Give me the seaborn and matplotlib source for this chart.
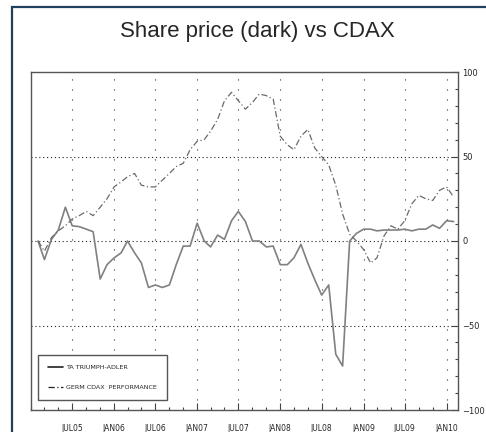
import numpy as np
import pandas as pd
import seaborn as sns
import matplotlib
matplotlib.use("Agg")
import matplotlib.pyplot as plt
import matplotlib.dates as mdates
from matplotlib.patches import Rectangle
from matplotlib.ticker import MultipleLocator

# monthly readings, Feb 2005 .. Feb 2010 (% change)
months = pd.date_range("2005-02-01", "2010-02-01", freq="MS")
ta_triumph = [0, -11, 1, 6.5, 20, 9, 8.5, 7, 5.5, -22.5, -14, -10, -7, 0, -7, -13,
              -27.5, -26, -27.5, -26, -14, -3, -3, 10.5, 0, -3.5, 3.5, 1, 12, 17.5,
              11.5, 0, 0, -3.5, -3, -14, -14, -10, -2, -13, -23, -32, -26, -67, -74,
              0, 4.5, 7, 7, 6, 6.5, 6.5, 6.5, 7, 6, 7, 7, 9.5, 7.5, 12, 11.5]
cdax = [0, -6, 2, 6, 9, 13, 15, 17.5, 15, 20, 25, 32, 35, 38, 40, 33,
        32, 32, 36, 40, 44, 46, 54, 59, 60, 65, 72, 83, 88, 83,
        78, 82, 87, 86, 84, 62, 57, 54, 62, 66, 55, 50, 45, 33, 16,
        4, 0, -5, -13, -10, 3, 9, 7, 12, 22, 27, 25, 24, 30, 32, 26]
series_names = ["TA TRIUMPH-ADLER", "GERM CDAX  PERFORMANCE"]
tick_dates = pd.date_range("2005-07-01", "2010-01-01", freq="6MS")
tick_labels = ["JUL05", "JAN06", "JUL06", "JAN07", "JUL07",
               "JAN08", "JUL08", "JAN09", "JUL09", "JAN10"]

df = pd.DataFrame({"date": months, "ta": ta_triumph, "cdax": cdax})

sns.set_style("white")
small_font = ["Liberation Sans Narrow", "DejaVu Sans"]

fig = plt.figure(figsize=(4.86, 4.32), dpi=100)
ax = fig.add_axes([31 / 486, 22 / 432, 427 / 486, 338 / 432])

sns.lineplot(data=df, x="date", y="ta", ax=ax, color="#808080", linewidth=1.2,
             label=series_names[0])
sns.lineplot(data=df, x="date", y="cdax", ax=ax, color="#6a6a6a", linewidth=0.9,
             linestyle=(0, (5, 2, 1, 2)), label=series_names[1])

ax.set_xlim(pd.Timestamp("2005-01-01"), pd.Timestamp("2010-02-20"))
ax.set_ylim(-100, 100)
ax.set_xlabel("")
ax.set_ylabel("")

# axes ticks
ax.set_xticks(tick_dates)
ax.set_xticklabels(tick_labels, fontsize=5.5, family=small_font)
ax.xaxis.set_minor_locator(mdates.MonthLocator(bymonth=[1, 3, 5, 7, 9, 11]))
ax.yaxis.tick_right()
ax.yaxis.set_major_locator(MultipleLocator(50))
ax.yaxis.set_minor_locator(MultipleLocator(10))
for lab in ax.get_yticklabels():
    lab.set_fontsize(6)
    lab.set_family(small_font)
ax.tick_params(axis="both", which="major", direction="in", length=5, width=0.8,
               color="#444444", pad=3)
ax.tick_params(axis="both", which="minor", direction="in", length=2.5, width=0.8,
               color="#444444")
ax.tick_params(axis="x", which="both", bottom=True, top=False)
ax.tick_params(axis="y", which="both", left=False, right=True)
ax.tick_params(axis="x", pad=10)

# dotted grid
for d in tick_dates:
    ax.axvline(d, color="#333333", linewidth=0.8, linestyle=(0, (1, 8)), zorder=0)
for v in [50, 0, -50]:
    ax.axhline(v, color="#222222", linewidth=0.8, linestyle=(0, (1, 2.5)), zorder=0)

for sp in ax.spines.values():
    sp.set_color("#555555")
    sp.set_linewidth(1.0)

leg = ax.legend(loc="lower left", bbox_to_anchor=(0.008, 0.02), fancybox=False,
                edgecolor="#555555", framealpha=1, handlelength=2.4,
                labelspacing=2.2, borderpad=1.6, handletextpad=0.4,
                prop={"family": small_font, "size": 4.6})
leg.get_frame().set_linewidth(1.0)
for h in leg.get_lines():
    h.set_color("#222222")

fig.text(257 / 486, 1 - 31 / 432, "Share price (dark) vs CDAX", ha="center",
         va="center", fontsize=16, family=["Liberation Sans", "DejaVu Sans"])

fig.patches.append(Rectangle((11.5 / 486, -0.05), 1.2, 1 - 7 / 432 + 0.05,
                             transform=fig.transFigure, fill=False,
                             edgecolor="#22405e", linewidth=1.6))

fig.savefig("out.png", dpi=100)
